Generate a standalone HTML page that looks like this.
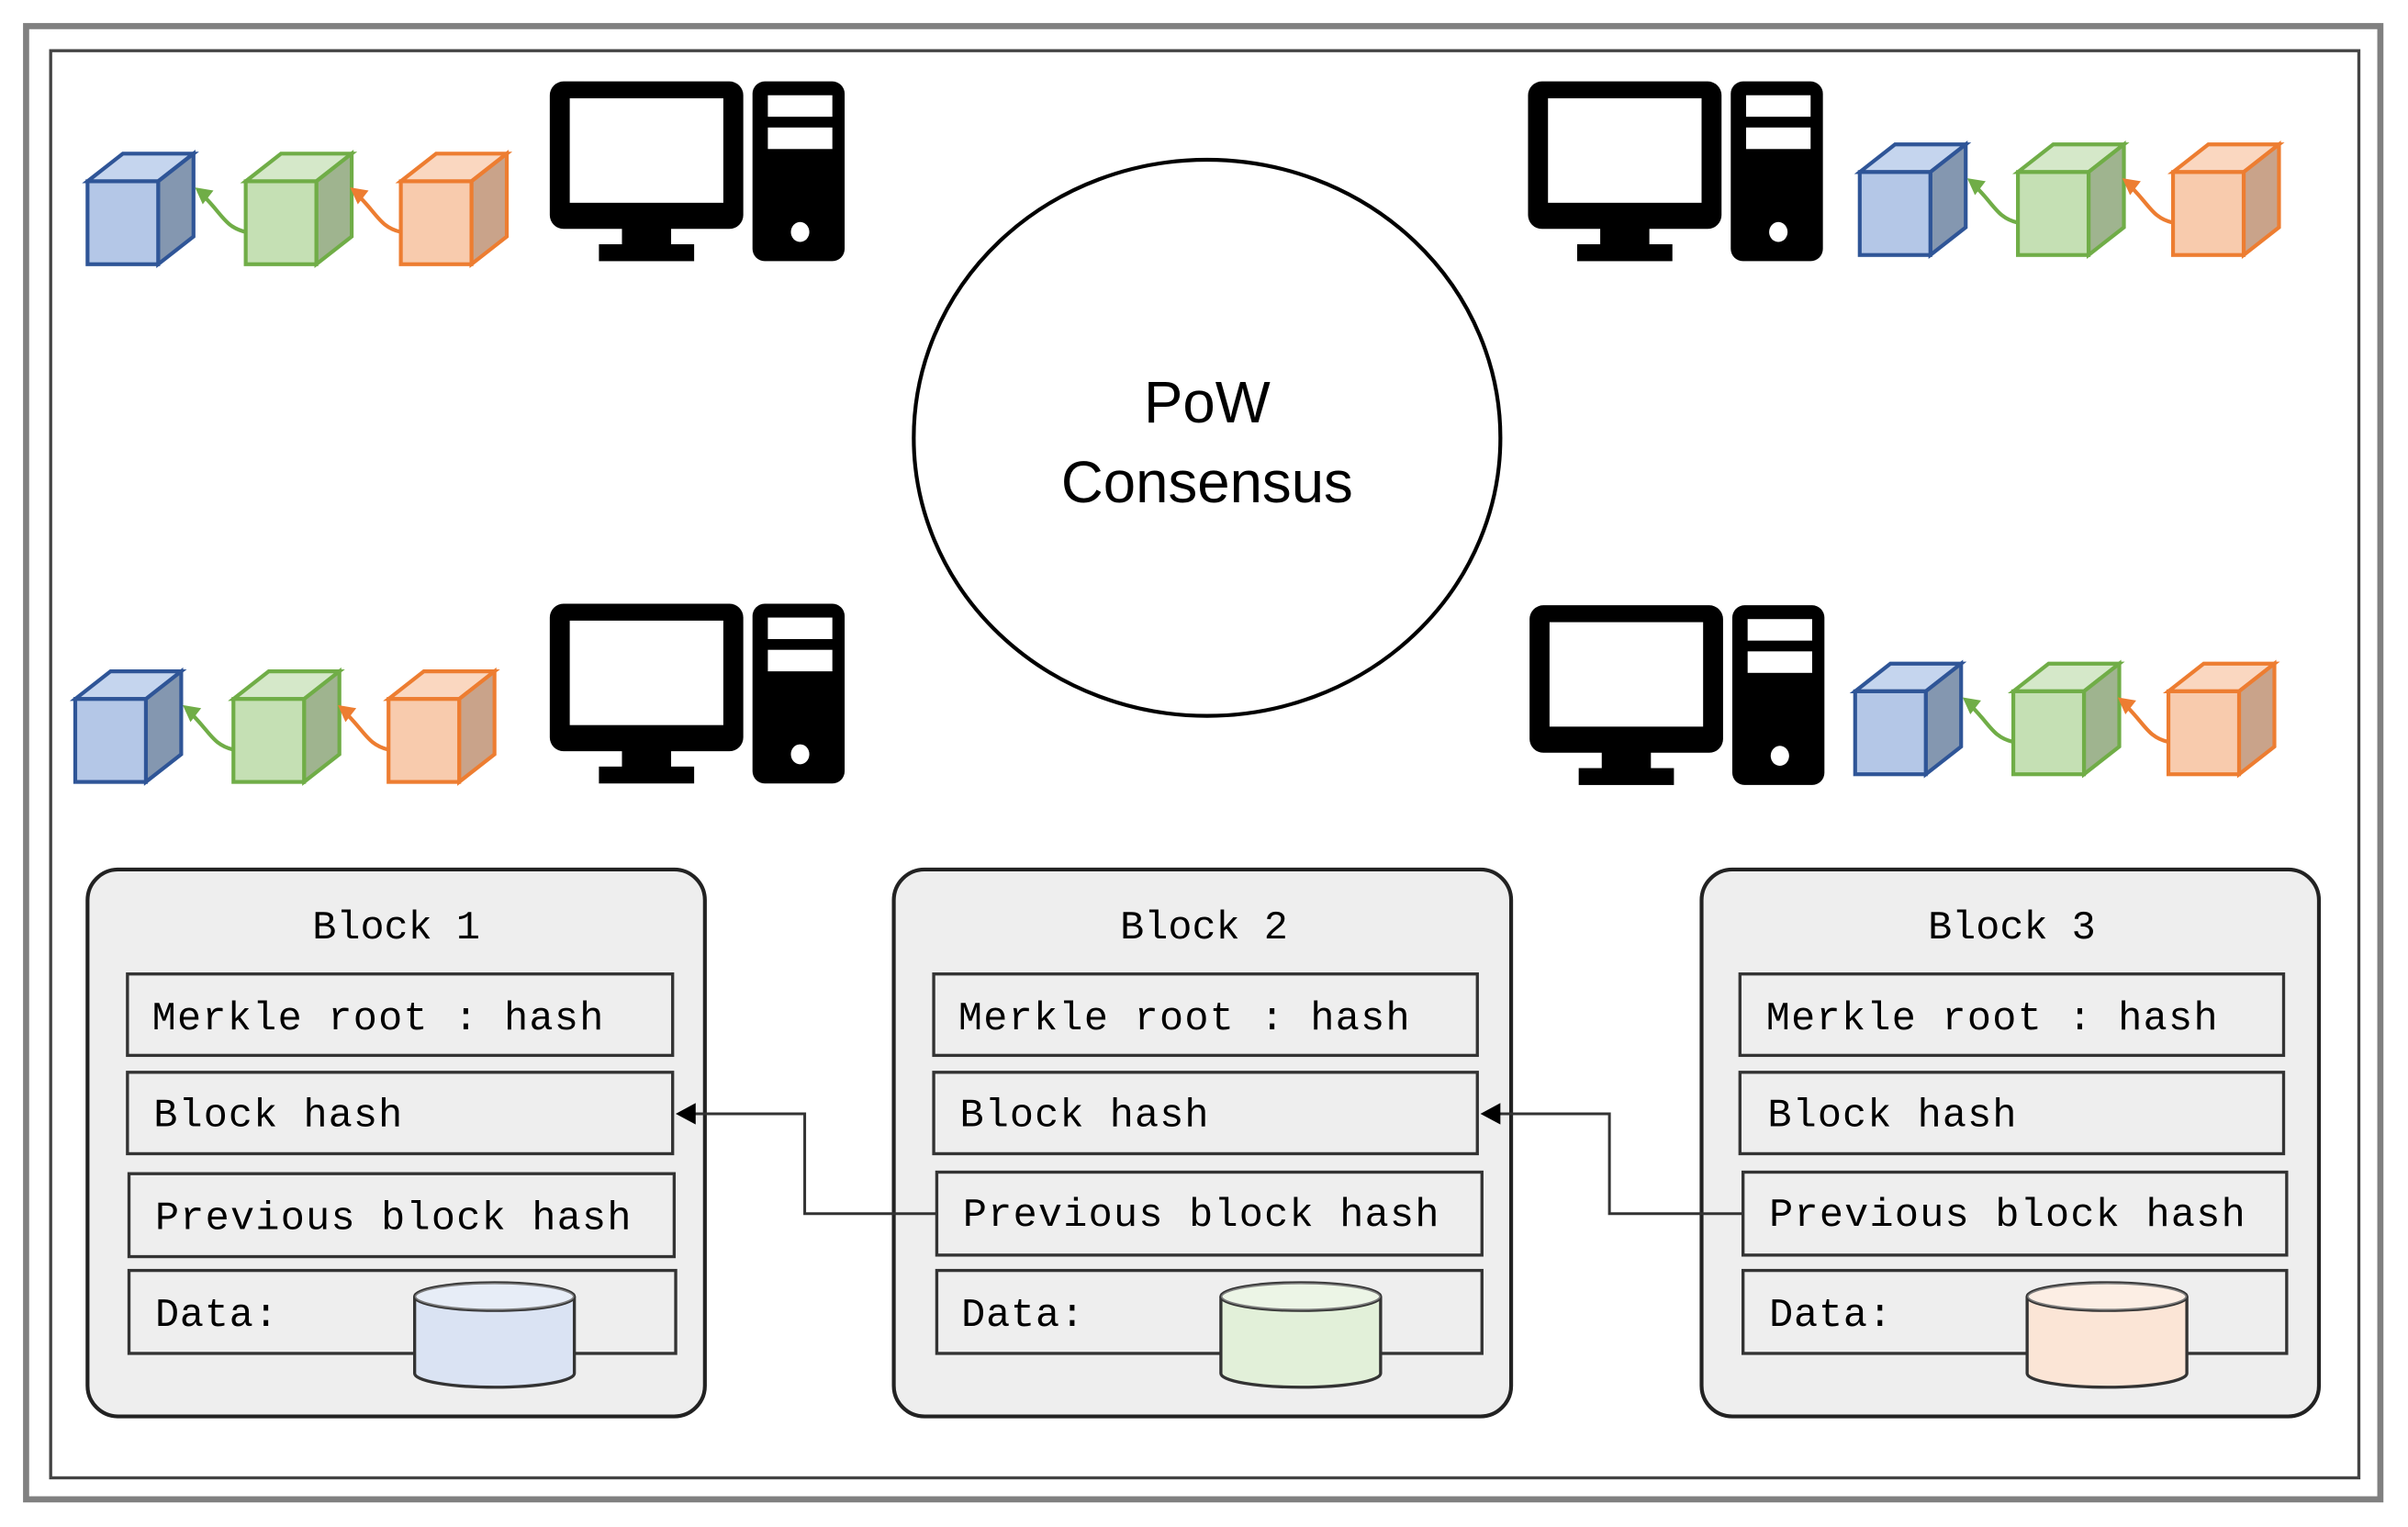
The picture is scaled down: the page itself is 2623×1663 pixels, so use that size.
<!DOCTYPE html>
<html><head><meta charset="utf-8"><style>html,body{margin:0;padding:0;background:#fff}svg{display:block}</style></head>
<body>
<svg width="2623" height="1663" viewBox="0 0 1568 994" preserveAspectRatio="none" xmlns="http://www.w3.org/2000/svg">
<defs>
<g id="pc">
  <rect x="0" y="0" width="126" height="96" rx="9" fill="#000"/>
  <rect x="13" y="11" width="100" height="68" fill="#fff"/>
  <rect x="47" y="94" width="32" height="14" fill="#000"/>
  <rect x="32" y="106" width="62" height="11" fill="#000"/>
  <rect x="132" y="0" width="60" height="117" rx="8" fill="#000"/>
  <rect x="142" y="9" width="42" height="14" fill="#fff"/>
  <rect x="142" y="30" width="42" height="14" fill="#fff"/>
  <ellipse cx="163" cy="98" rx="6" ry="6.5" fill="#fff"/>
</g>
<g id="cubeB">
  <polygon points="0,18 23,0 69,0 46,18" fill="#c5d5ee" stroke="#2f5597" stroke-width="2.5"/>
  <polygon points="46,18 69,0 69,54 46,72" fill="#8497b0" stroke="#2f5597" stroke-width="2.5"/>
  <rect x="0" y="18" width="46" height="54" fill="#b4c7e7" stroke="#2f5597" stroke-width="2.5"/>
</g>
<g id="cubeG">
  <polygon points="0,18 23,0 69,0 46,18" fill="#d5e8c9" stroke="#70ad47" stroke-width="2.5"/>
  <polygon points="46,18 69,0 69,54 46,72" fill="#9fb48f" stroke="#70ad47" stroke-width="2.5"/>
  <rect x="0" y="18" width="46" height="54" fill="#c5e0b4" stroke="#70ad47" stroke-width="2.5"/>
</g>
<g id="cubeO">
  <polygon points="0,18 23,0 69,0 46,18" fill="#fad7c0" stroke="#ed7d31" stroke-width="2.5"/>
  <polygon points="46,18 69,0 69,54 46,72" fill="#c9a38a" stroke="#ed7d31" stroke-width="2.5"/>
  <rect x="0" y="18" width="46" height="54" fill="#f8cbad" stroke="#ed7d31" stroke-width="2.5"/>
</g>
<g id="chain">
  <use href="#cubeB" x="0" y="0"/>
  <use href="#cubeG" x="103" y="0"/>
  <use href="#cubeO" x="204" y="0"/>
  <path d="M103,51 C90,48 88,40 76,28" fill="none" stroke="#70ad47" stroke-width="2.5"/>
  <polygon points="70,22 82,24 75,33" fill="#70ad47"/>
  <path d="M204,51 C191,48 189,40 177,28" fill="none" stroke="#ed7d31" stroke-width="2.5"/>
  <polygon points="171,22 183,24 176,33" fill="#ed7d31"/>
</g>
<g id="cyl">
  <path d="M0,10 L0,60 A52,9 0 0 0 104,60 L104,10" fill="currentColor" stroke="#333" stroke-width="2"/>
  <ellipse cx="52" cy="10" rx="52" ry="9" fill="currentColor" stroke="#333" stroke-width="2"/>
  <ellipse cx="52" cy="10" rx="52" ry="9" fill="#fff" fill-opacity="0.35" stroke="none"/>
</g>
</defs>
<rect width="1568" height="994" fill="#fff"/>
<rect x="17" y="17" width="1533" height="959" fill="none" stroke="#808080" stroke-width="4"/>
<rect x="33" y="33" width="1503" height="929" fill="none" stroke="#444" stroke-width="2"/>

<ellipse cx="786" cy="285" rx="191" ry="181" fill="#fff" stroke="#000" stroke-width="2.5"/>
<text x="786" y="275" text-anchor="middle" font-family="Liberation Sans, sans-serif" font-size="38">PoW</text>
<text x="786" y="327" text-anchor="middle" font-family="Liberation Sans, sans-serif" font-size="38">Consensus</text>

<use href="#pc" x="358" y="53"/>
<use href="#pc" x="995" y="53"/>
<use href="#pc" x="358" y="393"/>
<use href="#pc" x="996" y="394"/>

<use href="#chain" x="57" y="100"/>
<use href="#chain" x="1211" y="94"/>
<use href="#chain" x="49" y="437"/>
<use href="#chain" x="1208" y="432"/>

<g font-family="Liberation Mono, monospace" font-size="26" fill="#000">
  <g stroke="#222" stroke-width="2.5" fill="#eee">
    <rect x="57" y="566" width="402" height="356" rx="20"/>
    <rect x="582" y="566" width="402" height="356" rx="20"/>
    <rect x="1108" y="566" width="402" height="356" rx="20"/>
  </g>
  <g stroke="#333" stroke-width="2" fill="#eee">
    <rect x="83" y="634" width="355" height="53"/><rect x="83" y="698" width="355" height="53"/>
    <rect x="84" y="764" width="355" height="54"/><rect x="84" y="827" width="356" height="54"/>
    <rect x="608" y="634" width="354" height="53"/><rect x="608" y="698" width="354" height="53"/>
    <rect x="610" y="763" width="355" height="54"/><rect x="610" y="827" width="355" height="54"/>
    <rect x="1133" y="634" width="354" height="53"/><rect x="1133" y="698" width="354" height="53"/>
    <rect x="1135" y="763" width="354" height="54"/><rect x="1135" y="827" width="354" height="54"/>
  </g>
  <text x="258" y="611" text-anchor="middle">Block 1</text>
  <text x="784" y="611" text-anchor="middle">Block 2</text>
  <text x="1310" y="611" text-anchor="middle">Block 3</text>

  <text x="99" y="670" textLength="294">Merkle root : hash</text>
  <text x="100" y="733" textLength="162">Block hash</text>
  <text x="101" y="800" textLength="310">Previous block hash</text>
  <text x="101" y="863" textLength="80">Data:</text>

  <text x="624" y="670" textLength="294">Merkle root : hash</text>
  <text x="625" y="733" textLength="162">Block hash</text>
  <text x="627" y="798" textLength="310">Previous block hash</text>
  <text x="626" y="863" textLength="80">Data:</text>

  <text x="1150" y="670" textLength="294">Merkle root : hash</text>
  <text x="1151" y="733" textLength="162">Block hash</text>
  <text x="1152" y="798" textLength="310">Previous block hash</text>
  <text x="1152" y="863" textLength="80">Data:</text>
</g>

<use href="#cyl" x="270" y="834" style="color:#dae3f3"/>
<use href="#cyl" x="795" y="834" style="color:#e2f0d9"/>
<use href="#cyl" x="1320" y="834" style="color:#fbe5d6"/>

<g fill="none" stroke="#333" stroke-width="1.8">
  <polyline points="610,790 524,790 524,725 452,725"/>
  <polyline points="1135,790 1048,790 1048,725 976,725"/>
</g>
<polygon points="440,725 453,718 453,732" fill="#000"/>
<polygon points="964,725 977,718 977,732" fill="#000"/>
</svg>
</body></html>
